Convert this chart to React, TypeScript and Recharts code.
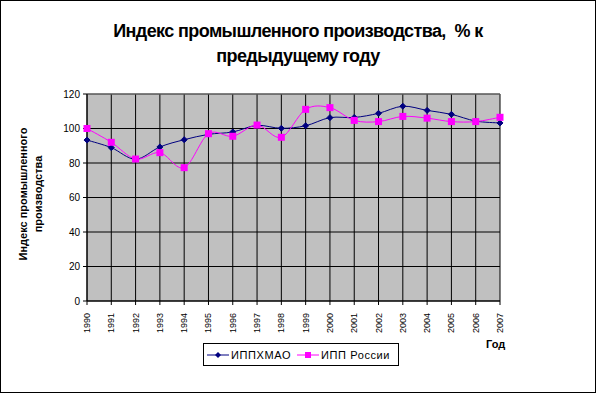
import React from "react";
import {
  CartesianGrid,
  Line,
  LineChart,
  ReferenceLine,
  XAxis,
  YAxis,
} from "recharts";

const YEARS = [
  "1990", "1991", "1992", "1993", "1994", "1995", "1996", "1997", "1998",
  "1999", "2000", "2001", "2002", "2003", "2004", "2005", "2006", "2007",
];
const KHMAO = [
  93.3, 88.9, 82.2, 89.3, 93.5, 96.6, 98, 101.8, 100.1,
  101.6, 106.3, 106.4, 108.8, 112.9, 110.5, 108.2, 104.3, 103.2,
];
const RUSSIA = [
  100, 92, 82.3, 86, 77.3, 97, 95.5, 102, 94.9,
  111.1, 112.1, 104.7, 104, 107, 106, 104, 104, 106.5,
];
const Y_TICKS = [0, 20, 40, 60, 80, 100, 120];

const NAVY = "#000080";
const PINK = "#FF00FF";
const FONT = "'Liberation Sans', Arial, sans-serif";

const data = YEARS.map((year, i) => ({
  year,
  khmao: KHMAO[i],
  russia: RUSSIA[i],
}));

// Excel-like smoothing: Catmull-Rom through the points
const smoothCurve = (context: any) => {
  let pts: number[][] = [];
  return {
    areaStart() {},
    areaEnd() {},
    lineStart() {
      pts = [];
    },
    point(x: number, y: number) {
      pts.push([+x, +y]);
    },
    lineEnd() {
      const n = pts.length;
      if (!n) return;
      context.moveTo(pts[0][0], pts[0][1]);
      for (let i = 0; i < n - 1; i++) {
        const p0 = pts[Math.max(i - 1, 0)];
        const p1 = pts[i];
        const p2 = pts[i + 1];
        const p3 = pts[Math.min(i + 2, n - 1)];
        context.bezierCurveTo(
          p1[0] + (p2[0] - p0[0]) / 6,
          p1[1] + (p2[1] - p0[1]) / 6,
          p2[0] - (p3[0] - p1[0]) / 6,
          p2[1] - (p3[1] - p1[1]) / 6,
          p2[0],
          p2[1],
        );
      }
    },
  };
};

const Diamond = (props: any) => {
  const { cx, cy } = props;
  if (cx == null || cy == null) return null;
  return (
    <path
      d={`M${cx},${cy - 3}L${cx + 3},${cy}L${cx},${cy + 3}L${cx - 3},${cy}Z`}
      fill={NAVY}
      stroke={NAVY}
    />
  );
};

const Square = (props: any) => {
  const { cx, cy } = props;
  if (cx == null || cy == null) return null;
  return <rect x={cx - 3.5} y={cy - 3.5} width={7} height={7} fill={PINK} />;
};

const YearTick = (props: any) => {
  const { x, y, payload } = props;
  return (
    <text
      x={x}
      y={y}
      transform={`rotate(-90, ${x}, ${y})`}
      textAnchor="end"
      dominantBaseline="central"
      fontSize={9}
      fontFamily={FONT}
      fill="#000"
      dx={-6}
    >
      {payload.value}
    </text>
  );
};

export default function App() {
  return (
    <div
      style={{
        position: "absolute",
        left: 0,
        top: 0,
        width: 596,
        height: 393,
        background: "#fff",
        fontFamily: FONT,
      }}
    >
      <div
        style={{
          position: "absolute",
          inset: 0,
          border: "1px solid #000",
          boxSizing: "border-box",
        }}
      />
      <div
        style={{
          position: "absolute",
          top: 19,
          left: 0,
          width: 596,
          textAlign: "center",
          fontWeight: "bold",
          fontSize: 18,
          letterSpacing: -0.6,
          lineHeight: "25px",
        }}
      >
        Индекс промышленного производства,&nbsp; % к
        <br />
        предыдущему году
      </div>
      <div
        style={{
          position: "absolute",
          left: 31 - 100,
          top: 194 - 15,
          width: 200,
          height: 30,
          transform: "rotate(-90deg)",
          textAlign: "center",
          fontWeight: "bold",
          fontSize: 11,
          lineHeight: "15px",
        }}
      >
        Индекс промышленного
        <br />
        производства
      </div>
      <div
        style={{
          position: "absolute",
          left: 486,
          top: 338,
          fontWeight: "bold",
          fontSize: 11,
        }}
      >
        Год
      </div>
      <div
        style={{
          position: "absolute",
          left: 203,
          top: 343,
          width: 196,
          height: 23,
          border: "1px solid #000",
          boxSizing: "border-box",
          display: "flex",
          alignItems: "center",
          fontSize: 11,
          letterSpacing: 0.6,
          paddingLeft: 3,
        }}
      >
        <svg width={22} height={8}>
          <line x1={0} y1={4} x2={22} y2={4} stroke={NAVY} />
          <path d="M11,1L14,4L11,7L8,4Z" fill={NAVY} />
        </svg>
        <span style={{ marginLeft: 2, marginRight: 6 }}>ИППХМАО</span>
        <svg width={22} height={8}>
          <line x1={0} y1={4} x2={22} y2={4} stroke={PINK} />
          <rect x={8} y={1} width={6} height={6} fill={PINK} />
        </svg>
        <span style={{ marginLeft: 2 }}>ИПП России</span>
      </div>
      <LineChart
        width={596}
        height={393}
        data={data}
        margin={{ top: 94, right: 96, bottom: 57, left: 47 }}
        style={{ position: "absolute", left: 0, top: 0 }}
      >
        <CartesianGrid
          stroke="#000"
          strokeWidth={1}
          fill="#C0C0C0"
          fillOpacity={1}
        />
        <ReferenceLine y={120} stroke="#808080" />
        <XAxis
          dataKey="year"
          height={35}
          interval={0}
          tickSize={4}
          tickLine={{ stroke: "#000" }}
          axisLine={{ stroke: "#000" }}
          tick={<YearTick />}
        />
        <YAxis
          width={40}
          domain={[0, 120]}
          ticks={Y_TICKS}
          tickSize={4}
          tickMargin={3}
          tickLine={{ stroke: "#000" }}
          axisLine={{ stroke: "#000" }}
          tick={{ fontSize: 10, fill: "#000", fontFamily: FONT }}
        />
        <Line
          dataKey="khmao"
          stroke={NAVY}
          strokeWidth={1}
          type={smoothCurve as any}
          dot={<Diamond />}
          activeDot={false}
          isAnimationActive={false}
        />
        <Line
          dataKey="russia"
          stroke={PINK}
          strokeWidth={1}
          type={smoothCurve as any}
          dot={<Square />}
          activeDot={false}
          isAnimationActive={false}
        />
      </LineChart>
    </div>
  );
}
